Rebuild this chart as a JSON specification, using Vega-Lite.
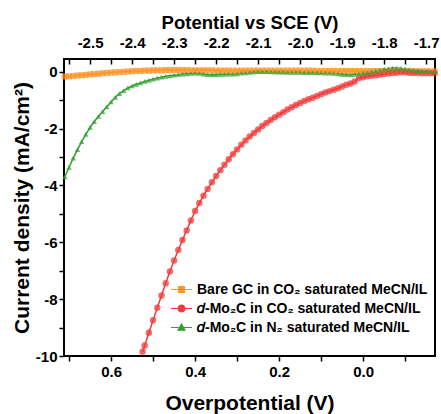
{
  "$schema": "https://vega.github.io/schema/vega-lite/v6.json",
  "width": 371,
  "height": 297,
  "autosize": {"type": "none"},
  "padding": {"left": 64, "top": 59, "right": 6, "bottom": 58},
  "config": {
    "view": {"stroke": "black", "strokeWidth": 2},
    "font": "Liberation Sans",
    "axis": {
      "domain": false, "grid": false, "tickColor": "black", "tickWidth": 1.5,
      "labelColor": "black", "titleColor": "black",
      "labelFont": "Liberation Sans", "titleFont": "Liberation Sans",
      "labelFontWeight": "bold", "titleFontWeight": "bold",
      "labelFontSize": 15, "labelFlush": false, "labelOverlap": false
    }
  },
  "datasets": {
    "curves": [
      {"series": "GC", "eta": 0.71, "j": -0.17}, {"series": "GC", "eta": 0.70, "j": -0.16}, {"series": "GC", "eta": 0.69, "j": -0.15}, {"series": "GC", "eta": 0.68, "j": -0.13}, {"series": "GC", "eta": 0.67, "j": -0.12}, {"series": "GC", "eta": 0.66, "j": -0.11}, {"series": "GC", "eta": 0.65, "j": -0.09}, {"series": "GC", "eta": 0.64, "j": -0.08}, {"series": "GC", "eta": 0.63, "j": -0.07}, {"series": "GC", "eta": 0.62, "j": -0.05}, {"series": "GC", "eta": 0.61, "j": -0.04}, {"series": "GC", "eta": 0.60, "j": -0.03}, {"series": "GC", "eta": 0.59, "j": -0.02}, {"series": "GC", "eta": 0.58, "j": -0.01}, {"series": "GC", "eta": 0.57, "j": 0.0}, {"series": "GC", "eta": 0.56, "j": 0.01}, {"series": "GC", "eta": 0.55, "j": 0.02}, {"series": "GC", "eta": 0.54, "j": 0.03}, {"series": "GC", "eta": 0.53, "j": 0.03}, {"series": "GC", "eta": 0.52, "j": 0.04}, {"series": "GC", "eta": 0.51, "j": 0.04}, {"series": "GC", "eta": 0.50, "j": 0.05}, {"series": "GC", "eta": 0.49, "j": 0.05}, {"series": "GC", "eta": 0.48, "j": 0.05}, {"series": "GC", "eta": 0.47, "j": 0.06}, {"series": "GC", "eta": 0.46, "j": 0.06}, {"series": "GC", "eta": 0.45, "j": 0.06}, {"series": "GC", "eta": 0.44, "j": 0.06}, {"series": "GC", "eta": 0.43, "j": 0.06}, {"series": "GC", "eta": 0.42, "j": 0.06}, {"series": "GC", "eta": 0.41, "j": 0.05}, {"series": "GC", "eta": 0.40, "j": 0.05}, {"series": "GC", "eta": 0.39, "j": 0.05}, {"series": "GC", "eta": 0.38, "j": 0.05}, {"series": "GC", "eta": 0.37, "j": 0.05}, {"series": "GC", "eta": 0.36, "j": 0.05}, {"series": "GC", "eta": 0.35, "j": 0.04}, {"series": "GC", "eta": 0.34, "j": 0.04}, {"series": "GC", "eta": 0.33, "j": 0.04}, {"series": "GC", "eta": 0.32, "j": 0.04}, {"series": "GC", "eta": 0.31, "j": 0.04}, {"series": "GC", "eta": 0.30, "j": 0.04}, {"series": "GC", "eta": 0.29, "j": 0.04}, {"series": "GC", "eta": 0.28, "j": 0.04}, {"series": "GC", "eta": 0.27, "j": 0.04}, {"series": "GC", "eta": 0.26, "j": 0.04}, {"series": "GC", "eta": 0.25, "j": 0.04}, {"series": "GC", "eta": 0.24, "j": 0.04}, {"series": "GC", "eta": 0.23, "j": 0.04}, {"series": "GC", "eta": 0.22, "j": 0.04}, {"series": "GC", "eta": 0.21, "j": 0.04}, {"series": "GC", "eta": 0.20, "j": 0.04}, {"series": "GC", "eta": 0.19, "j": 0.04}, {"series": "GC", "eta": 0.18, "j": 0.04}, {"series": "GC", "eta": 0.17, "j": 0.04}, {"series": "GC", "eta": 0.16, "j": 0.04}, {"series": "GC", "eta": 0.15, "j": 0.04}, {"series": "GC", "eta": 0.14, "j": 0.04}, {"series": "GC", "eta": 0.13, "j": 0.04}, {"series": "GC", "eta": 0.12, "j": 0.04}, {"series": "GC", "eta": 0.11, "j": 0.03}, {"series": "GC", "eta": 0.10, "j": 0.03}, {"series": "GC", "eta": 0.09, "j": 0.03}, {"series": "GC", "eta": 0.08, "j": 0.03}, {"series": "GC", "eta": 0.07, "j": 0.03}, {"series": "GC", "eta": 0.06, "j": 0.03}, {"series": "GC", "eta": 0.05, "j": 0.03}, {"series": "GC", "eta": 0.04, "j": 0.03}, {"series": "GC", "eta": 0.03, "j": 0.03}, {"series": "GC", "eta": 0.02, "j": 0.03}, {"series": "GC", "eta": 0.01, "j": 0.03}, {"series": "GC", "eta": 0.00, "j": 0.03}, {"series": "GC", "eta": -0.01, "j": 0.03}, {"series": "GC", "eta": -0.02, "j": 0.03}, {"series": "GC", "eta": -0.03, "j": 0.03}, {"series": "GC", "eta": -0.04, "j": 0.03}, {"series": "GC", "eta": -0.05, "j": 0.03}, {"series": "GC", "eta": -0.06, "j": 0.03}, {"series": "GC", "eta": -0.07, "j": 0.03}, {"series": "GC", "eta": -0.08, "j": 0.03}, {"series": "GC", "eta": -0.09, "j": 0.03}, {"series": "GC", "eta": -0.10, "j": 0.03}, {"series": "GC", "eta": -0.11, "j": 0.02}, {"series": "GC", "eta": -0.12, "j": 0.02}, {"series": "GC", "eta": -0.13, "j": 0.02}, {"series": "GC", "eta": -0.14, "j": 0.02}, {"series": "GC", "eta": -0.15, "j": 0.02}, {"series": "GC", "eta": -0.16, "j": 0.02}, {"series": "GC", "eta": -0.17, "j": 0.02},
      {"series": "MoCO2", "eta": 0.525, "j": -9.85}, {"series": "MoCO2", "eta": 0.52, "j": -9.63}, {"series": "MoCO2", "eta": 0.51, "j": -9.18}, {"series": "MoCO2", "eta": 0.50, "j": -8.74}, {"series": "MoCO2", "eta": 0.49, "j": -8.30}, {"series": "MoCO2", "eta": 0.48, "j": -7.87}, {"series": "MoCO2", "eta": 0.47, "j": -7.44}, {"series": "MoCO2", "eta": 0.46, "j": -7.03}, {"series": "MoCO2", "eta": 0.45, "j": -6.64}, {"series": "MoCO2", "eta": 0.44, "j": -6.27}, {"series": "MoCO2", "eta": 0.43, "j": -5.92}, {"series": "MoCO2", "eta": 0.42, "j": -5.58}, {"series": "MoCO2", "eta": 0.41, "j": -5.23}, {"series": "MoCO2", "eta": 0.40, "j": -4.90}, {"series": "MoCO2", "eta": 0.39, "j": -4.62}, {"series": "MoCO2", "eta": 0.38, "j": -4.36}, {"series": "MoCO2", "eta": 0.37, "j": -4.12}, {"series": "MoCO2", "eta": 0.36, "j": -3.89}, {"series": "MoCO2", "eta": 0.35, "j": -3.67}, {"series": "MoCO2", "eta": 0.34, "j": -3.46}, {"series": "MoCO2", "eta": 0.33, "j": -3.27}, {"series": "MoCO2", "eta": 0.32, "j": -3.08}, {"series": "MoCO2", "eta": 0.31, "j": -2.90}, {"series": "MoCO2", "eta": 0.30, "j": -2.73}, {"series": "MoCO2", "eta": 0.29, "j": -2.57}, {"series": "MoCO2", "eta": 0.28, "j": -2.42}, {"series": "MoCO2", "eta": 0.27, "j": -2.28}, {"series": "MoCO2", "eta": 0.26, "j": -2.15}, {"series": "MoCO2", "eta": 0.25, "j": -2.03}, {"series": "MoCO2", "eta": 0.24, "j": -1.91}, {"series": "MoCO2", "eta": 0.23, "j": -1.80}, {"series": "MoCO2", "eta": 0.22, "j": -1.70}, {"series": "MoCO2", "eta": 0.21, "j": -1.60}, {"series": "MoCO2", "eta": 0.20, "j": -1.51}, {"series": "MoCO2", "eta": 0.19, "j": -1.42}, {"series": "MoCO2", "eta": 0.18, "j": -1.33}, {"series": "MoCO2", "eta": 0.17, "j": -1.25}, {"series": "MoCO2", "eta": 0.16, "j": -1.17}, {"series": "MoCO2", "eta": 0.15, "j": -1.10}, {"series": "MoCO2", "eta": 0.14, "j": -1.03}, {"series": "MoCO2", "eta": 0.13, "j": -0.97}, {"series": "MoCO2", "eta": 0.12, "j": -0.91}, {"series": "MoCO2", "eta": 0.11, "j": -0.85}, {"series": "MoCO2", "eta": 0.10, "j": -0.79}, {"series": "MoCO2", "eta": 0.09, "j": -0.73}, {"series": "MoCO2", "eta": 0.08, "j": -0.68}, {"series": "MoCO2", "eta": 0.07, "j": -0.63}, {"series": "MoCO2", "eta": 0.06, "j": -0.58}, {"series": "MoCO2", "eta": 0.05, "j": -0.52}, {"series": "MoCO2", "eta": 0.04, "j": -0.46}, {"series": "MoCO2", "eta": 0.03, "j": -0.41}, {"series": "MoCO2", "eta": 0.02, "j": -0.34}, {"series": "MoCO2", "eta": 0.01, "j": -0.22}, {"series": "MoCO2", "eta": 0.00, "j": -0.19}, {"series": "MoCO2", "eta": -0.01, "j": -0.16}, {"series": "MoCO2", "eta": -0.02, "j": -0.14}, {"series": "MoCO2", "eta": -0.03, "j": -0.12}, {"series": "MoCO2", "eta": -0.04, "j": -0.10}, {"series": "MoCO2", "eta": -0.05, "j": -0.08}, {"series": "MoCO2", "eta": -0.06, "j": -0.06}, {"series": "MoCO2", "eta": -0.07, "j": -0.04}, {"series": "MoCO2", "eta": -0.08, "j": -0.03}, {"series": "MoCO2", "eta": -0.09, "j": -0.02}, {"series": "MoCO2", "eta": -0.10, "j": -0.02}, {"series": "MoCO2", "eta": -0.11, "j": -0.03}, {"series": "MoCO2", "eta": -0.12, "j": -0.04}, {"series": "MoCO2", "eta": -0.13, "j": -0.04}, {"series": "MoCO2", "eta": -0.14, "j": -0.05}, {"series": "MoCO2", "eta": -0.15, "j": -0.05}, {"series": "MoCO2", "eta": -0.16, "j": -0.05}, {"series": "MoCO2", "eta": -0.17, "j": -0.05},
      {"series": "MoN2", "eta": 0.71, "j": -3.70}, {"series": "MoN2", "eta": 0.70, "j": -3.36}, {"series": "MoN2", "eta": 0.69, "j": -3.04}, {"series": "MoN2", "eta": 0.68, "j": -2.74}, {"series": "MoN2", "eta": 0.67, "j": -2.46}, {"series": "MoN2", "eta": 0.66, "j": -2.20}, {"series": "MoN2", "eta": 0.65, "j": -1.96}, {"series": "MoN2", "eta": 0.64, "j": -1.75}, {"series": "MoN2", "eta": 0.63, "j": -1.57}, {"series": "MoN2", "eta": 0.62, "j": -1.40}, {"series": "MoN2", "eta": 0.61, "j": -1.23}, {"series": "MoN2", "eta": 0.60, "j": -1.06}, {"series": "MoN2", "eta": 0.59, "j": -0.90}, {"series": "MoN2", "eta": 0.58, "j": -0.77}, {"series": "MoN2", "eta": 0.57, "j": -0.66}, {"series": "MoN2", "eta": 0.56, "j": -0.57}, {"series": "MoN2", "eta": 0.55, "j": -0.50}, {"series": "MoN2", "eta": 0.54, "j": -0.44}, {"series": "MoN2", "eta": 0.53, "j": -0.39}, {"series": "MoN2", "eta": 0.52, "j": -0.34}, {"series": "MoN2", "eta": 0.51, "j": -0.30}, {"series": "MoN2", "eta": 0.50, "j": -0.26}, {"series": "MoN2", "eta": 0.49, "j": -0.22}, {"series": "MoN2", "eta": 0.48, "j": -0.19}, {"series": "MoN2", "eta": 0.47, "j": -0.16}, {"series": "MoN2", "eta": 0.46, "j": -0.14}, {"series": "MoN2", "eta": 0.45, "j": -0.12}, {"series": "MoN2", "eta": 0.44, "j": -0.10}, {"series": "MoN2", "eta": 0.43, "j": -0.08}, {"series": "MoN2", "eta": 0.42, "j": -0.07}, {"series": "MoN2", "eta": 0.41, "j": -0.06}, {"series": "MoN2", "eta": 0.40, "j": -0.05}, {"series": "MoN2", "eta": 0.39, "j": -0.06}, {"series": "MoN2", "eta": 0.38, "j": -0.08}, {"series": "MoN2", "eta": 0.37, "j": -0.10}, {"series": "MoN2", "eta": 0.36, "j": -0.10}, {"series": "MoN2", "eta": 0.35, "j": -0.10}, {"series": "MoN2", "eta": 0.34, "j": -0.09}, {"series": "MoN2", "eta": 0.33, "j": -0.09}, {"series": "MoN2", "eta": 0.32, "j": -0.08}, {"series": "MoN2", "eta": 0.31, "j": -0.08}, {"series": "MoN2", "eta": 0.30, "j": -0.07}, {"series": "MoN2", "eta": 0.29, "j": -0.05}, {"series": "MoN2", "eta": 0.28, "j": -0.04}, {"series": "MoN2", "eta": 0.27, "j": -0.02}, {"series": "MoN2", "eta": 0.26, "j": 0.0}, {"series": "MoN2", "eta": 0.25, "j": 0.01}, {"series": "MoN2", "eta": 0.24, "j": 0.01}, {"series": "MoN2", "eta": 0.23, "j": 0.01}, {"series": "MoN2", "eta": 0.22, "j": 0.0}, {"series": "MoN2", "eta": 0.21, "j": 0.0}, {"series": "MoN2", "eta": 0.20, "j": -0.01}, {"series": "MoN2", "eta": 0.19, "j": -0.01}, {"series": "MoN2", "eta": 0.18, "j": -0.02}, {"series": "MoN2", "eta": 0.17, "j": -0.02}, {"series": "MoN2", "eta": 0.16, "j": -0.02}, {"series": "MoN2", "eta": 0.15, "j": -0.02}, {"series": "MoN2", "eta": 0.14, "j": -0.03}, {"series": "MoN2", "eta": 0.13, "j": -0.03}, {"series": "MoN2", "eta": 0.12, "j": -0.03}, {"series": "MoN2", "eta": 0.11, "j": -0.04}, {"series": "MoN2", "eta": 0.10, "j": -0.04}, {"series": "MoN2", "eta": 0.09, "j": -0.05}, {"series": "MoN2", "eta": 0.08, "j": -0.05}, {"series": "MoN2", "eta": 0.07, "j": -0.06}, {"series": "MoN2", "eta": 0.06, "j": -0.07}, {"series": "MoN2", "eta": 0.05, "j": -0.09}, {"series": "MoN2", "eta": 0.04, "j": -0.10}, {"series": "MoN2", "eta": 0.03, "j": -0.11}, {"series": "MoN2", "eta": 0.02, "j": -0.09}, {"series": "MoN2", "eta": 0.01, "j": -0.07}, {"series": "MoN2", "eta": 0.00, "j": -0.05}, {"series": "MoN2", "eta": -0.01, "j": -0.03}, {"series": "MoN2", "eta": -0.02, "j": 0.0}, {"series": "MoN2", "eta": -0.03, "j": 0.03}, {"series": "MoN2", "eta": -0.04, "j": 0.06}, {"series": "MoN2", "eta": -0.05, "j": 0.09}, {"series": "MoN2", "eta": -0.06, "j": 0.11}, {"series": "MoN2", "eta": -0.07, "j": 0.13}, {"series": "MoN2", "eta": -0.08, "j": 0.13}, {"series": "MoN2", "eta": -0.09, "j": 0.12}, {"series": "MoN2", "eta": -0.10, "j": 0.10}, {"series": "MoN2", "eta": -0.11, "j": 0.08}, {"series": "MoN2", "eta": -0.12, "j": 0.06}, {"series": "MoN2", "eta": -0.13, "j": 0.04}, {"series": "MoN2", "eta": -0.14, "j": 0.03}, {"series": "MoN2", "eta": -0.15, "j": 0.02}, {"series": "MoN2", "eta": -0.16, "j": 0.01}, {"series": "MoN2", "eta": -0.17, "j": 0.01}
    ],
    "potentialAxis": [{"E": -2.5}, {"E": -1.7}]
  },
  "layer": [
    {
      "data": {"name": "curves"},
      "encoding": {
        "x": {
          "field": "eta", "type": "quantitative",
          "scale": {"domain": [0.712, -0.171], "nice": false, "zero": false},
          "axis": {
            "orient": "bottom", "title": "Overpotential (V)", "titleFontSize": 21,
            "values": [0.7, 0.6, 0.5, 0.4, 0.3, 0.2, 0.1, 0.0, -0.1],
            "labelExpr": "round(datum.value*10) % 2 != 0 ? '' : format(datum.value, '.1f')",
            "tickSize": 5, "labelPadding": 3, "titlePadding": 13
          }
        },
        "y": {
          "field": "j", "type": "quantitative",
          "scale": {"domain": [-10, 0.45], "nice": false, "zero": false},
          "axis": {
            "title": "Current density (mA/cm²)", "titleFontSize": 21,
            "values": [-10, -9, -8, -7, -6, -5, -4, -3, -2, -1, 0],
            "labelExpr": "round(datum.value) % 2 != 0 ? '' : replace(format(datum.value, 'd'), '\u2212', '-')",
            "tickSize": 5, "labelPadding": 2, "titlePadding": 3
          }
        }
      },
      "layer": [
        {
          "mark": {"type": "line", "strokeWidth": 1.5},
          "encoding": {
            "color": {
              "field": "series", "type": "nominal",
              "scale": {"domain": ["GC", "MoCO2", "MoN2"], "range": ["#FF9326", "#F23A3A", "#35A035"]},
              "legend": {
                "title": null, "orient": "none", "legendX": 106, "legendY": 219,
                "labelFont": "Liberation Sans", "labelFontWeight": "bold", "labelFontSize": 14, "labelColor": "black",
                "labelLimit": 0,
                "symbolType": {"expr": "datum.value == 'GC' ? 'M-1,0L1,0M-0.28,-0.28L0.28,-0.28L0.28,0.28L-0.28,0.28Z' : datum.value == 'MoCO2' ? 'M-1,0L1,0M-0.33,0A0.33,0.33 0 1,0 0.33,0A0.33,0.33 0 1,0 -0.33,0Z' : 'M-1,0L1,0M0,-0.33L0.33,0.25L-0.33,0.25Z'"},
                "symbolFillColor": {"expr": "datum.value == 'GC' ? '#FF9326' : datum.value == 'MoCO2' ? '#F23A3A' : '#35A035'"},
                "symbolSize": 441, "symbolStrokeWidth": 1.2, "symbolOpacity": 1,
                "rowPadding": 0, "labelOffset": 4, "padding": 0,
                "labelExpr": "datum.value == 'GC' ? 'Bare GC in CO₂ saturated MeCN/IL' : datum.value == 'MoCO2' ? '𝑑-Mo₂C in CO₂ saturated MeCN/IL' : '𝑑-Mo₂C in N₂ saturated MeCN/IL'"
              }
            }
          }
        },
        {
          "transform": [{"filter": "datum.series == 'GC'"}],
          "mark": {"type": "point", "shape": "square", "filled": true, "size": 36, "color": "#FF9326", "opacity": 0.75}
        },
        {
          "transform": [{"filter": "datum.series == 'MoCO2'"}],
          "mark": {"type": "point", "shape": "circle", "filled": true, "size": 42, "color": "#F23A3A", "opacity": 0.75}
        },
        {
          "transform": [{"filter": "datum.series == 'MoN2'"}],
          "mark": {"type": "point", "shape": "triangle-up", "filled": true, "size": 30, "color": "#35A035", "opacity": 0.75}
        }
      ]
    },
    {
      "data": {"name": "potentialAxis"},
      "mark": {"type": "point", "opacity": 0},
      "encoding": {
        "x": {
          "field": "E", "type": "quantitative",
          "scale": {"domain": [-2.562, -1.679], "nice": false, "zero": false},
          "axis": {
            "orient": "top", "title": "Potential vs SCE (V)", "titleFontSize": 18.5,
            "values": [-2.55, -2.5, -2.45, -2.4, -2.35, -2.3, -2.25, -2.2, -2.15, -2.1, -2.05, -2.0, -1.95, -1.9, -1.85, -1.8, -1.75, -1.7],
            "labelExpr": "abs(round(datum.value*100)) % 10 != 0 ? '' : replace(format(datum.value, '.1f'), '\u2212', '-')",
            "tickSize": -5, "labelPadding": 14, "titlePadding": 3
          }
        }
      }
    }
  ],
  "resolve": {"scale": {"x": "independent"}, "axis": {"x": "independent"}}
}
